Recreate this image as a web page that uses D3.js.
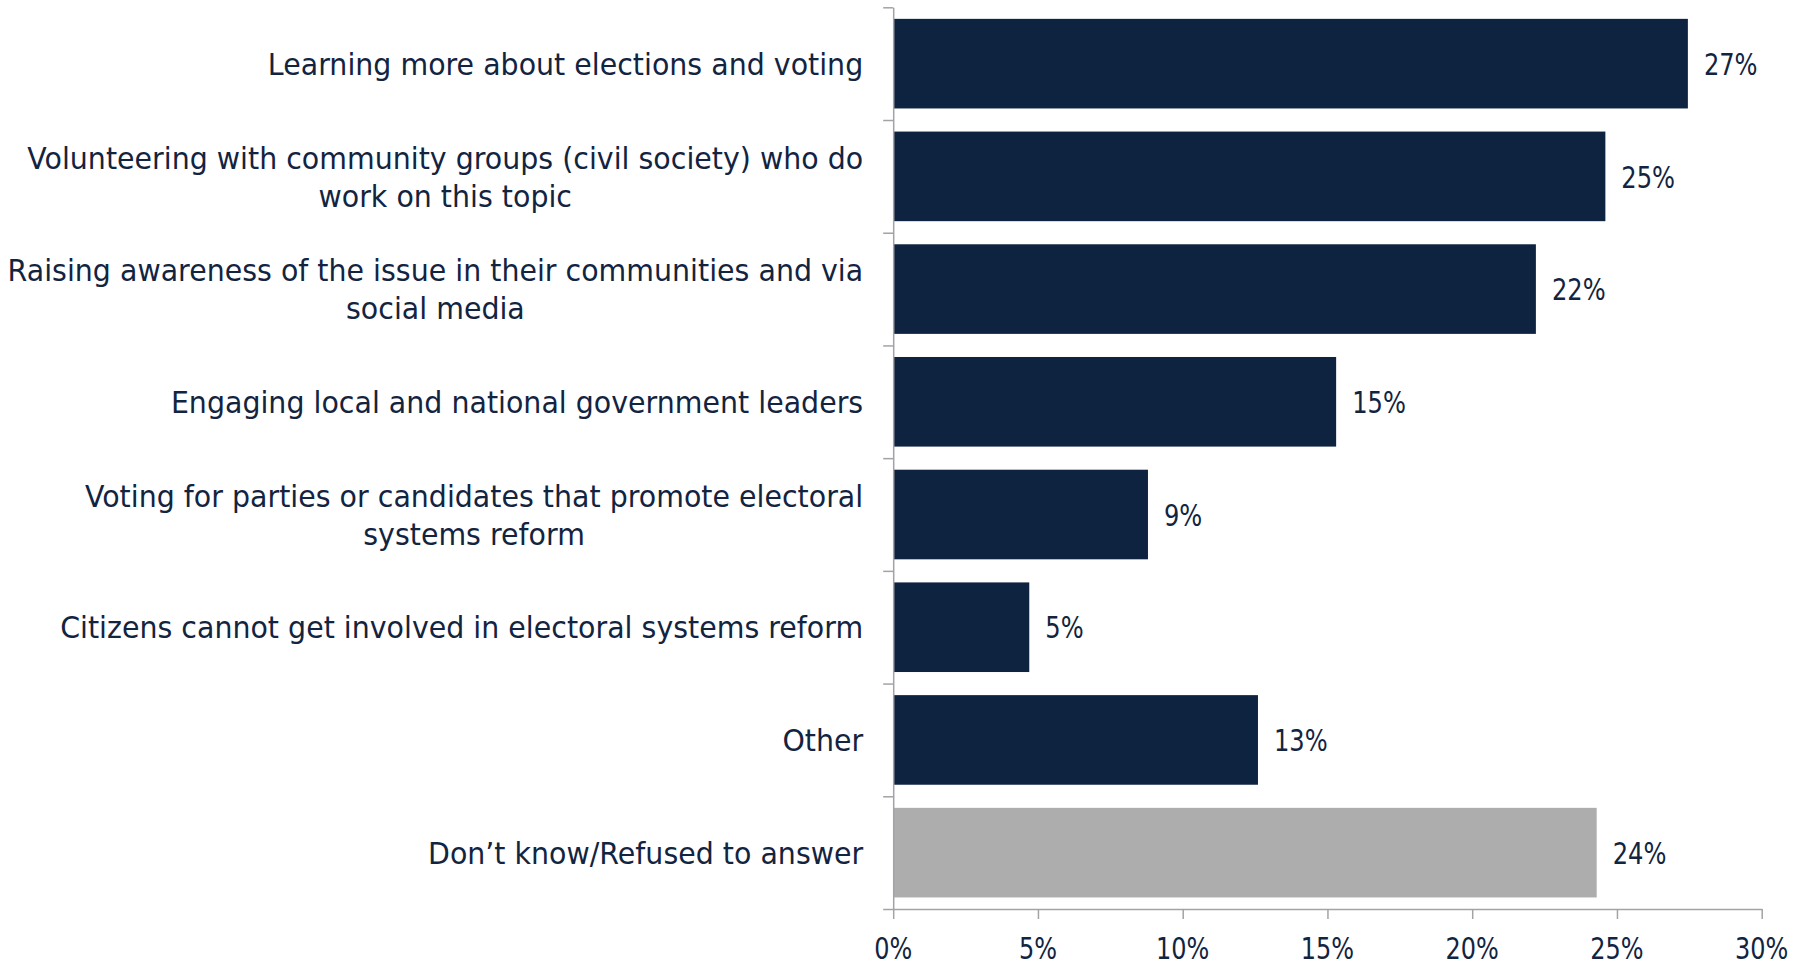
<!DOCTYPE html>
<html>
<head>
<meta charset="utf-8">
<script src="https://cdn.jsdelivr.net/npm/d3@7"></script>
<style>
  html, body { margin: 0; padding: 0; background: #ffffff; }
  svg { display: block; }
  text { font-family: "DejaVu Sans", Verdana, sans-serif; fill: #12243f; }
</style>
</head>
<body>
<svg id="chart" width="1808" height="965"></svg>
<script>
// ---- data ----
const categories = [
  "Learning more about elections and voting",
  "Volunteering with community groups (civil society) who do\nwork on this topic",
  "Raising awareness of the issue in their communities and via\nsocial media",
  "Engaging local and national government leaders",
  "Voting for parties or candidates that promote electoral\nsystems reform",
  "Citizens cannot get involved in electoral systems reform",
  "Other",
  "Don’t know/Refused to answer"
];
const values = [27.45, 24.6, 22.2, 15.3, 8.8, 4.7, 12.6, 24.3];
const barColors = ["#0e2340", "#0e2340", "#0e2340", "#0e2340", "#0e2340", "#0e2340", "#0e2340", "#adadae"];
const xTicks = [0, 5, 10, 15, 20, 25, 30];

// ---- layout ----
const svg = d3.select("#chart");
const x0 = 893.2, x1 = 1761.7, yTop = 7.3, yBot = 909;
const fontSize = 31;
const catScaleX = 0.918, valScaleX = 0.78, tickScaleX = 0.8;

const x = d3.scaleLinear().domain([0, 30]).range([x0, x1]);
const y = d3.scaleBand().domain(categories).range([yTop, yBot]).paddingInner(0.205).paddingOuter(0.1025);
const yIdx = d3.scaleLinear().domain([0, categories.length]).range([yTop, yBot]);

// bars
svg.append("g").selectAll("rect")
  .data(categories)
  .join("rect")
  .attr("x", x(0))
  .attr("y", d => y(d))
  .attr("width", (d, i) => x(values[i]) - x(0))
  .attr("height", y.bandwidth())
  .attr("fill", (d, i) => barColors[i]);

// y axis (category boundary ticks)
const gy = svg.append("g").attr("transform", `translate(${x0},0)`)
  .call(d3.axisLeft(yIdx).tickValues(d3.range(categories.length + 1)).tickFormat("").tickSize(10).tickSizeOuter(0));
gy.selectAll("path, line").attr("stroke", "#a3a3a6").attr("stroke-width", 1.5);

// x axis
const gx = svg.append("g").attr("transform", `translate(0,${yBot})`)
  .call(d3.axisBottom(x).tickValues(xTicks).tickFormat("").tickSize(10).tickSizeOuter(0));
gx.selectAll("path, line").attr("stroke", "#a3a3a6").attr("stroke-width", 1.5);

// x tick labels
svg.append("g").selectAll("g")
  .data(xTicks)
  .join("g")
  .attr("transform", d => `translate(${x(d)},${yBot + 39}) scale(${tickScaleX},1)`)
  .append("text")
  .attr("text-anchor", "middle")
  .attr("dy", "0.36em")
  .style("font-size", "30px")
  .text(d => d + "%");

// value labels
svg.append("g").selectAll("g")
  .data(categories)
  .join("g")
  .attr("transform", (d, i) => `translate(${x(values[i]) + 16},${y(d) + y.bandwidth() / 2}) scale(${valScaleX},1)`)
  .append("text")
  .attr("dy", "0.36em")
  .style("font-size", fontSize + "px")
  .text((d, i) => Math.round(values[i]) + "%");

// category labels (block right-aligned, lines centered)
const lineH = 38;
const labelRight = x0 - 30;
svg.append("g").selectAll("g")
  .data(categories)
  .join("g")
  .attr("transform", d => `translate(${labelRight},${y(d) + y.bandwidth() / 2}) scale(${catScaleX},1)`)
  .each(function(d) {
    const g = d3.select(this);
    const lines = d.split("\n");
    const texts = lines.map((ln, j) => g.append("text")
      .attr("y", (j - (lines.length - 1) / 2) * lineH)
      .attr("dy", "0.36em")
      .attr("text-anchor", "middle")
      .style("font-size", fontSize + "px")
      .text(ln));
    const maxW = d3.max(texts, t => t.node().getComputedTextLength());
    texts.forEach(t => t.attr("x", -maxW / 2));
  });
</script>
</body>
</html>
